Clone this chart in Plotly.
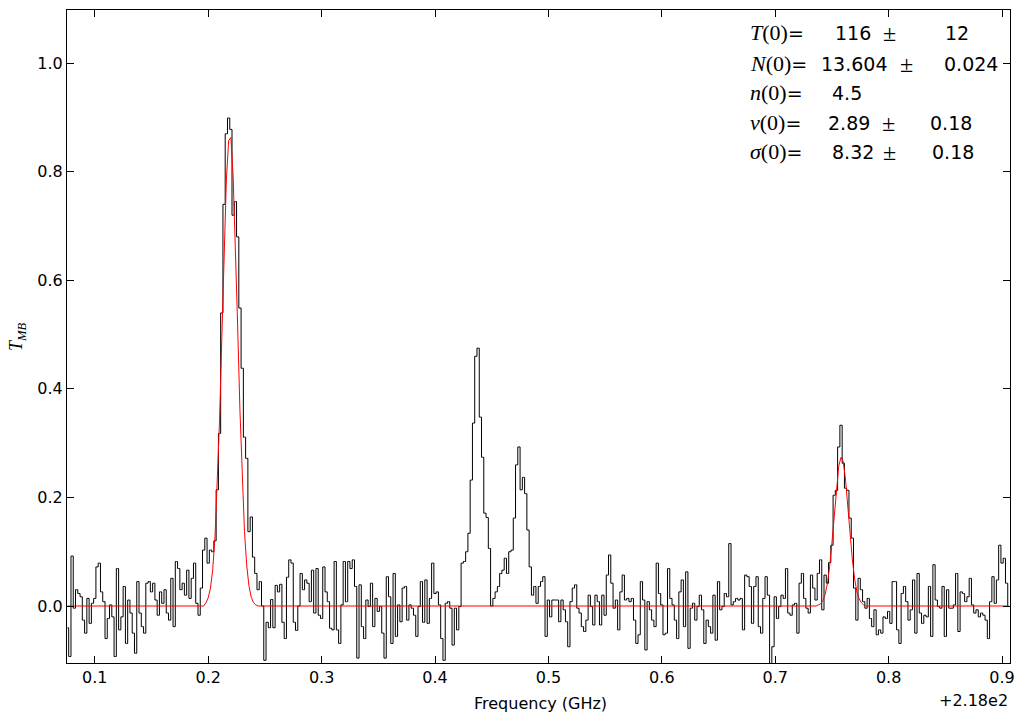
import numpy as np
import plotly.graph_objects as go

# ---------------- data ----------------
freq_start = 218.076     # GHz, first channel
chan_width = 0.002       # GHz

seg1 = [-0.04, -0.093, 0.092, -0.004, 0.03, 0.023, 0.017, -0.026, -0.05, 0.014, -0.032, 0.005, 0.014,
        0.072, 0.079, 0.026, 0.008, -0.06, -0.023, 0.002, -0.02, -0.093, 0.069, -0.044, -0.02, 0.036,
        -0.069, 0.011, -0.013, -0.05, -0.087, 0.045, -0.013, -0.038, -0.05, 0.042, 0.045, 0.026, 0.042,
        0.011, -0.017, 0.026, 0.005, 0.03, -0.013, -0.026, 0.051, -0.038, 0.082, 0.069, 0.03, 0.042, 0.02]
seg2 = [0.066, 0.014, 0.051, 0.079, 0.005, -0.017, 0.033, 0.103, 0.125, 0.079, 0.103, 0.1, 0.12, 0.214,
        0.318, 0.54, 0.74, 0.87, 0.899, 0.878, 0.72, 0.745, 0.68, 0.549, 0.438, 0.311, 0.272, 0.137,
        0.164, 0.09, 0.06, 0.03, 0.045, 0.0, -0.1, -0.03, -0.04, 0.012, -0.04, 0.038, 0.026, 0.04, -0.03,
        -0.06, 0.053, 0.085, 0.079, -0.03, -0.045, 0.0, 0.06, 0.03]
seg3 = [0.048, 0.042, 0.008, 0.066, -0.013, 0.069, -0.017, -0.023, 0.072, 0.026, 0.008, -0.041, -0.044,
        0.082, -0.044, -0.069, 0.002, 0.082, 0.008, 0.082, 0.069, 0.085, 0.036, -0.096, 0.039, -0.038,
        -0.06, 0.011, -0.001, 0.042, -0.038, 0.014, -0.01, -0.001, -0.05, -0.096, 0.054, 0.017, -0.069,
        0.06, -0.056, 0.002, -0.029, 0.033, 0.036, -0.026, 0.002, -0.004, -0.017, -0.056, -0.001, 0.045]
seg4 = [-0.03, 0.048, -0.032, 0.014, 0.079, 0.023, 0.026, 0.002, -0.06, -0.1, 0.005, 0.008, -0.004,
        -0.072, -0.004, -0.044, -0.001, 0.079, 0.082, 0.1, 0.134, 0.232, 0.337, 0.46, 0.475, 0.348, 0.274,
        0.171, 0.163, 0.106, 0.0, 0.014, 0.026, 0.036, 0.06, 0.066, 0.088, 0.06, 0.1, 0.103, 0.162, 0.26,
        0.293, 0.214, 0.237, 0.207, 0.14, 0.072, 0.02, 0.036, 0.005, 0.036, 0.045]
seg5 = [0.054, -0.056, 0.011, -0.02, 0.011, 0.011, 0.011, -0.029, 0.011, -0.007, -0.029, -0.075, 0.008,
        0.033, 0.039, -0.004, -0.013, -0.038, -0.047, -0.026, 0.02, -0.001, -0.035, 0.02, 0.008, -0.035,
        0.02, -0.017, 0.057, 0.094, 0.042, -0.004, 0.011, -0.044, 0.026, 0.057, 0.011, 0.014, 0.008,
        0.014, -0.026, -0.069, -0.053, 0.045, 0.011, -0.081, 0.008, -0.007, -0.026, -0.038, 0.079]
seg6 = [0.023, 0.002, -0.053, -0.05, 0.069, 0.014, 0.002, -0.026, -0.06, 0.026, 0.048, -0.038, 0.063,
        -0.078, -0.004, 0.005, -0.026, -0.001, 0.02, -0.007, -0.069, -0.026, -0.038, -0.05, 0.02, -0.063,
        0.045, -0.007, -0.001, 0.023, 0.017, 0.115, 0.002, 0.008, 0.014, 0.011, 0.014, -0.044, 0.057,
        0.054, 0.036, -0.032, 0.036, 0.054, -0.038, -0.05, 0.014, 0.054, 0.02, -0.106, -0.075, 0.017]
seg7 = [-0.023, -0.001, 0.02, 0.014, 0.069, -0.013, -0.017, 0.002, 0.005, -0.05, 0.042, 0.06, 0.014,
        -0.004, -0.013, 0.057, 0.033, 0.011, 0.06, 0.085, -0.007, 0.057, 0.042, 0.08, 0.112, 0.204, 0.213,
        0.293, 0.333, 0.263, 0.217, 0.213, 0.162, 0.125, 0.033, -0.026, 0.051, 0.03, 0.008, -0.004, 0.014,
        -0.023, -0.038, -0.007, -0.053, -0.044, -0.05, -0.02, -0.023, -0.01, -0.032, 0.045]
seg8 = [0.045, -0.044, -0.069, 0.023, 0.036, 0.008, -0.026, -0.007, 0.048, -0.05, 0.06, -0.013, -0.032,
        -0.017, -0.02, 0.036, -0.056, 0.076, 0.011, -0.001, -0.004, 0.036, -0.056, 0.03, -0.004, -0.004,
        0.002, 0.06, -0.047, 0.026, 0.023, 0.008, 0.017, 0.051, 0.002, -0.013, -0.007, -0.02, -0.013,
        -0.017, -0.026, -0.06, 0.008, 0.054, 0.005, 0.048, 0.112, 0.079, 0.088, 0.042, -0.001]

# fitted model (red), non-zero only around the two fitted lines
model_start_a = 61
model_line_a = [0.006, 0.015, 0.033, 0.067, 0.128, 0.22, 0.341, 0.493, 0.65, 0.783, 0.857, 0.863, 0.792,
                0.67, 0.514, 0.36, 0.23, 0.137, 0.074, 0.036, 0.016, 0.006, 0.002]
model_start_b = 331
model_line_b = [0.002, 0.004, 0.01, 0.021, 0.042, 0.073, 0.117, 0.167, 0.218, 0.258, 0.274, 0.266, 0.232,
                0.183, 0.13, 0.085, 0.05, 0.026, 0.013, 0.006, 0.002]

x_ticks = [218.1, 218.2, 218.3, 218.4, 218.5, 218.6, 218.7, 218.8, 218.9]
x_ticklabels = ["0.1", "0.2", "0.3", "0.4", "0.5", "0.6", "0.7", "0.8", "0.9"]
y_ticks = [0.0, 0.2, 0.4, 0.6, 0.8, 1.0]
y_ticklabels = ["0.0", "0.2", "0.4", "0.6", "0.8", "1.0"]

par_names = ["<i>T</i>(0)", "<i>N</i>(0)", "<i>n</i>(0)", "<i>v</i>(0)", "<i>σ</i>(0)"]
par_values = ["116", "13.604", "4.5", "2.89", "8.32"]
par_errors = ["12", "0.024", "", "0.18", "0.18"]

# ---------------- build ----------------
tmb = np.array(seg1 + seg2 + seg3 + seg4 + seg5 + seg6 + seg7 + seg8)
freq = freq_start + chan_width * np.arange(len(tmb))
model = np.zeros(len(tmb))
model[model_start_a:model_start_a + len(model_line_a)] = model_line_a
model[model_start_b:model_start_b + len(model_line_b)] = model_line_b

fig = go.Figure()
fig.add_trace(go.Scatter(x=freq, y=tmb, mode="lines",
                         line=dict(color="black", width=1, shape="hvh"), hoverinfo="skip"))
fig.add_trace(go.Scatter(x=freq, y=model, mode="lines",
                         line=dict(color="red", width=1), hoverinfo="skip"))

L, R, T, B = 67, 1010, 10, 663
W, H = 1025, 722


def px(xp, yp):
    return (xp - L) / (R - L), (B - yp) / (B - T)


SANS = "DejaVu Sans"
SERIF = "Liberation Serif"
ann = []
rows_y = [33, 64, 93, 123, 152]
val_left = [833, 819, 830, 826, 830]
pm_center = [889, 906, 0, 888, 889]
err_left = [943, 942, 0, 928, 930]
for k in range(5):
    x0, y0 = px(748, rows_y[k])
    ann.append(dict(x=x0, y=y0, xref="paper", yref="paper", xanchor="left", yanchor="middle",
                    showarrow=False,
                    text=f'<span style="font-family:{SERIF};font-size:22px">{par_names[k]}</span>=',
                    font=dict(family=SANS, size=19, color="black")))
    xv, _ = px(val_left[k], rows_y[k])
    ann.append(dict(x=xv, y=y0, xref="paper", yref="paper", xanchor="left", yanchor="middle",
                    showarrow=False, text=par_values[k],
                    font=dict(family=SANS, size=19, color="black")))
    if par_errors[k]:
        xpm, _ = px(pm_center[k], rows_y[k])
        ann.append(dict(x=xpm, y=y0, xref="paper", yref="paper", xanchor="center", yanchor="middle",
                        showarrow=False, text="±",
                        font=dict(family=SERIF, size=24, color="black")))
        xe, _ = px(err_left[k], rows_y[k])
        ann.append(dict(x=xe, y=y0, xref="paper", yref="paper", xanchor="left", yanchor="middle",
                        showarrow=False, text=par_errors[k],
                        font=dict(family=SANS, size=19, color="black")))

# axis labels
xl, yl = px(540, 703)
ann.append(dict(x=xl, y=yl, xref="paper", yref="paper", xanchor="center", yanchor="middle",
                showarrow=False, text="Frequency (GHz)", font=dict(family=SANS, size=16, color="black")))
xl, yl = px(1010, 700)
ann.append(dict(x=xl, y=yl, xref="paper", yref="paper", xanchor="right", yanchor="middle",
                showarrow=False, text="+2.18e2", font=dict(family=SANS, size=16, color="black")))
xl, yl = px(18, 337)
ann.append(dict(x=xl, y=yl, xref="paper", yref="paper", xanchor="center", yanchor="middle",
                showarrow=False, textangle=-90,
                text="<i>T</i><sub><i>MB</i></sub>", font=dict(family=SERIF, size=18, color="black")))

axis_common = dict(showline=True, linecolor="black", linewidth=1, mirror="allticks",
                   ticks="inside", ticklen=7, tickwidth=1, tickcolor="black",
                   showgrid=False, zeroline=False,
                   tickfont=dict(family=SANS, size=16, color="black"))

fig.update_layout(
    width=W, height=H,
    margin=dict(l=L, r=W - R, t=T, b=H - B, pad=0),
    paper_bgcolor="white", plot_bgcolor="white",
    showlegend=False,
    xaxis=dict(range=[218.0755, 218.907], tickvals=x_ticks, ticktext=x_ticklabels, **axis_common),
    yaxis=dict(range=[-0.105, 1.098], tickvals=y_ticks, ticktext=y_ticklabels, **axis_common),
    annotations=ann,
)

fig.write_html("out.html")
